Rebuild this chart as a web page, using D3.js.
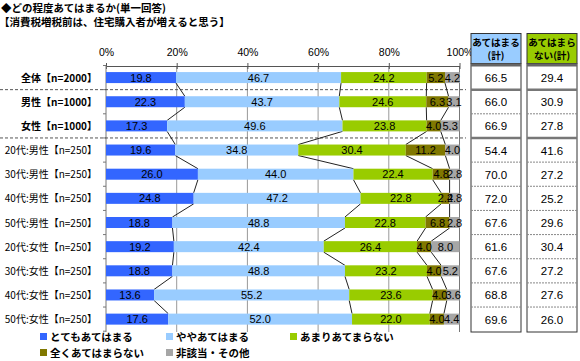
<!DOCTYPE html>
<html><head><meta charset="utf-8">
<script src="https://cdn.jsdelivr.net/npm/d3@7"></script>
<style>
body{margin:0;background:#fff;}
svg{display:block;font-family:"Noto Sans CJK JP","Noto Sans",sans-serif;}
</style></head>
<body><svg id="c" width="580" height="361"></svg>
<script>
const categories = ["全体【n=2000】","男性【n=1000】","女性【n=1000】","20代:男性【n=250】","30代:男性【n=250】","40代:男性【n=250】","50代:男性【n=250】","20代:女性【n=250】","30代:女性【n=250】","40代:女性【n=250】","50代:女性【n=250】"];
const seriesNames = ["とてもあてはまる","ややあてはまる","あまりあてまらない","全くあてはまらない","非該当・その他"];
const s1 = [19.8,22.3,17.3,19.6,26.0,24.8,18.8,19.2,18.8,13.6,17.6];
const s2 = [46.7,43.7,49.6,34.8,44.0,47.2,48.8,42.4,48.8,55.2,52.0];
const s3 = [24.2,24.6,23.8,30.4,22.4,22.8,22.8,26.4,23.2,23.6,22.0];
const s4 = [5.2,6.3,4.0,11.2,4.8,2.4,6.8,4.0,4.0,4.0,4.0];
const s5 = [4.2,3.1,5.3,4.0,2.8,2.8,2.8,8.0,5.2,3.6,4.4];
const applies = [66.5,66.0,66.9,54.4,70.0,72.0,67.6,61.6,67.6,68.8,69.6];
const notApplies = [29.4,30.9,27.8,41.6,27.2,25.2,29.6,30.4,27.2,27.6,26.0];
const tickValues = [0,20,40,60,80,100];
const tableHeaders = [["あてはまる","(計)"],["あてはまら","ない(計)"]];
const colors = ["#3366FF","#99CCFF","#99CC00","#807800","#A6A6A6"];
const tableColors = ["#99CCFF","#99CC00"];

const svg = d3.select("#c");
const series = [s1,s2,s3,s4,s5];
const x = d3.scaleLinear().domain([0,100]).range([106,459.5]);
const y = d3.scaleBand().domain(categories).range([65.5,331.2]).paddingInner(0).paddingOuter(0);
const bh = 11;
const yc = c => y(c)+y.bandwidth()/2;
const yTop = 66, yBot = 332;

// titles
svg.append("text").attr("x",1).attr("y",12).attr("font-size",10.5).attr("font-weight","bold").text("◆どの程度あてはまるか(単一回答)");
svg.append("text").attr("x",-1).attr("y",26).attr("font-size",10.5).attr("font-weight","bold").text("【消費税増税前は、住宅購入者が増えると思う】");

// gridlines
svg.append("g").selectAll("line").data(tickValues.slice(1)).join("line")
  .attr("x1",d=>x(d)).attr("x2",d=>x(d)).attr("y1",yTop).attr("y2",yBot)
  .attr("stroke",d=>d===100?"#777":"#999").attr("stroke-width",1);

// top axis
const ax = d3.axisTop(x).tickValues(tickValues).tickFormat(d=>d+"%").tickSize(0).tickPadding(10);
const axg = svg.append("g").attr("transform",`translate(0,${yTop})`).call(ax);
axg.select(".domain").attr("stroke","#555");
axg.selectAll("text").attr("font-size",10.5).attr("fill","#000").attr("font-family","Liberation Sans, Arial, sans-serif");
axg.selectAll(".tick").append("line").attr("y1",-3).attr("y2",3).attr("stroke","#555");

// left axis
svg.append("line").attr("x1",x(0)).attr("x2",x(0)).attr("y1",yTop).attr("y2",yBot).attr("stroke","#777");
svg.append("g").selectAll("line").data(d3.range(categories.length+1)).join("line")
  .attr("x1",x(0)-3).attr("x2",x(0)).attr("y1",i=>65.5+i*y.step()).attr("y2",i=>65.5+i*y.step()).attr("stroke","#777");

// dashed separators
[1,3].forEach(i=>{
  const yy = 65.5+i*y.step();
  svg.append("line").attr("x1",0).attr("x2",466).attr("y1",yy).attr("y2",yy)
    .attr("stroke","#555").attr("stroke-dasharray","3,2");
});

// stacked data
const stacked = categories.map((c,i)=>{
  let acc=0;
  return series.map((s,k)=>{const v=s[i]; const o={c,k,v,x0:acc,x1:acc+v}; acc+=v; return o;});
});

// series lines
const lg = svg.append("g");
for(let k=0;k<4;k++){
  for(let i=0;i<categories.length-1;i++){
    lg.append("line")
      .attr("x1",x(stacked[i][k].x1)).attr("y1",yc(categories[i])+bh/2)
      .attr("x2",x(stacked[i+1][k].x1)).attr("y2",yc(categories[i+1])-bh/2)
      .attr("stroke","#222").attr("stroke-width",1);
  }
}

// bars
const bg = svg.append("g");
stacked.forEach(row=>{
  bg.selectAll(null).data(row).join("rect")
    .attr("x",d=>x(d.x0)).attr("width",d=>x(d.x1)-x(d.x0))
    .attr("y",d=>yc(d.c)-bh/2).attr("height",bh)
    .attr("fill",d=>colors[d.k]);
  bg.selectAll(null).data(row).join("text")
    .attr("x",d=>(x(d.x0)+x(d.x1))/2).attr("y",d=>yc(d.c)+4)
    .attr("text-anchor","middle").attr("font-size",11)
    .attr("font-family","Liberation Sans, Arial, sans-serif")
    .text(d=>d.v.toFixed(1));
});

// category labels
svg.append("g").selectAll("text").data(categories).join("text")
  .attr("x",97).attr("y",c=>yc(c)+4).attr("text-anchor","end")
  .attr("font-size",10).attr("font-weight",(c,i)=>i<3?"bold":"normal").text(c=>c);

// table
const cols = [{x0:471,x1:521,vals:applies},{x0:527,x1:577,vals:notApplies}];
cols.forEach((col,j)=>{
  const g = svg.append("g");
  g.append("rect").attr("x",col.x0).attr("y",33.5).attr("width",col.x1-col.x0).attr("height",30)
    .attr("fill",tableColors[j]).attr("stroke","#333").attr("stroke-width",1);
  tableHeaders[j].forEach((t,li)=>{
    g.append("text").attr("x",(col.x0+col.x1)/2).attr("y",46+li*13).attr("text-anchor","middle")
      .attr("font-size",9.6).attr("font-weight","bold").text(t);
  });
  g.append("rect").attr("x",col.x0).attr("y",64).attr("width",col.x1-col.x0).attr("height",yBot-64)
    .attr("fill","#fff").attr("stroke","#333").attr("stroke-width",1);
  g.append("rect").attr("x",col.x0).attr("y",63.5).attr("width",col.x1-col.x0).attr("height",3).attr("fill","#666");
  for(let i=1;i<categories.length;i++){
    const yy = 65.5+i*y.step();
    if(i===1||i===3){
      g.append("line").attr("x1",col.x0).attr("x2",col.x1).attr("y1",yy).attr("y2",yy).attr("stroke","#777").attr("stroke-width",2.5);
    } else {
      g.append("line").attr("x1",col.x0).attr("x2",col.x1).attr("y1",yy).attr("y2",yy).attr("stroke","#888").attr("stroke-dasharray","2,1");
    }
  }
  g.selectAll(null).data(col.vals).join("text")
    .attr("x",(col.x0+col.x1)/2).attr("y",(d,i)=>yc(categories[i])+4.5).attr("text-anchor","middle")
    .attr("font-size",11.5).attr("font-family","Liberation Sans, Arial, sans-serif").text(d=>d.toFixed(1));
});

// legend
const legPos = [[40,340],[166,340],[290,340],[40,356],[166,356]];
const leg = svg.append("g");
seriesNames.forEach((n,k)=>{
  const [lx,ly]=legPos[k];
  leg.append("rect").attr("x",lx).attr("y",ly-7).attr("width",7).attr("height",7).attr("fill",colors[k]);
  leg.append("text").attr("x",lx+10).attr("y",ly+1).attr("font-size",10.5).attr("font-weight","bold").text(n);
});
</script></body></html>
